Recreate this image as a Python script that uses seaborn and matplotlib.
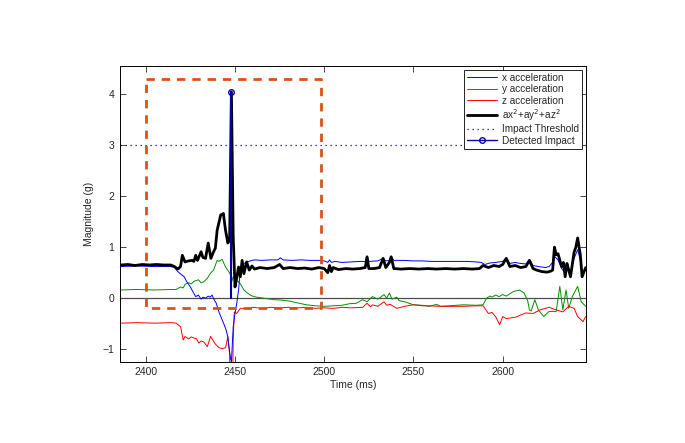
import numpy as np
import matplotlib
matplotlib.use("Agg")
import matplotlib.pyplot as plt
from matplotlib.lines import Line2D
from matplotlib.legend_handler import HandlerLine2D
import seaborn as sns

# x acceleration
t_x = [2386, 2395, 2405, 2414, 2416, 2418, 2420, 2421.5, 2423, 2425, 2426.5, 2428, 2429.5, 2431, 2432,
       2433.5, 2435, 2436, 2437.2, 2438, 2439.5, 2441, 2442.5, 2443.7, 2445, 2446, 2447, 2447.6, 2448,
       2449, 2450, 2451, 2452, 2453, 2454, 2455, 2457, 2459.5, 2461, 2465, 2470, 2474, 2475.4, 2477,
       2482, 2487, 2492, 2497, 2500, 2502, 2503, 2504, 2506, 2510, 2515, 2520, 2523, 2524, 2525, 2530,
       2533, 2534.5, 2536.5, 2537.5, 2539, 2545, 2550, 2555, 2560, 2565, 2570, 2575, 2580, 2585, 2588,
       2590, 2593, 2596, 2600, 2602, 2604, 2607, 2610, 2613, 2615, 2617, 2620, 2624, 2626, 2628, 2629,
       2631, 2633, 2635, 2636, 2638, 2640, 2642, 2643.5, 2644.5, 2646.5]
acc_x = [0.62, 0.63, 0.62, 0.62, 0.6, 0.52, 0.46, 0.42, 0.32, 0.22, 0.12, 0.03, 0.06, -0.02, 0.02,
         0.0, 0.04, 0.02, 0.06, -0.01, -0.1, -0.27, -0.4, -0.5, -0.62, -0.76, -1.05, -1.2, -1.25,
         -0.56, -0.3, -0.1, 0.16, 0.55, 0.65, 0.68, 0.71, 0.74, 0.75, 0.74, 0.75, 0.75, 0.79, 0.75,
         0.74, 0.75, 0.74, 0.74, 0.73, 0.7, 0.75, 0.7, 0.72, 0.7, 0.71, 0.72, 0.72, 0.82, 0.72, 0.73,
         0.78, 0.73, 0.74, 0.82, 0.74, 0.74, 0.73, 0.73, 0.72, 0.72, 0.72, 0.72, 0.72, 0.71, 0.7,
         0.66, 0.69, 0.7, 0.72, 0.79, 0.68, 0.7, 0.68, 0.67, 0.76, 0.64, 0.62, 0.6, 0.62, 0.7, 0.82,
         0.75, 0.58, 0.5, 0.66, 0.5, 0.78, 0.95, 0.75, 0.5, 0.55]

# y acceleration
t_y = [2386, 2395, 2405, 2414, 2417, 2419.5, 2421, 2422, 2424, 2425.5, 2427, 2429.5, 2431, 2432.5,
       2434.5, 2436.3, 2438, 2440, 2441, 2442.8, 2444.7, 2446.5, 2447.5, 2448, 2449, 2450.3, 2452,
       2453, 2455, 2457, 2459, 2462, 2466, 2472, 2477, 2481, 2486, 2490, 2495, 2500, 2505, 2510,
       2514, 2518, 2521.5, 2524, 2527, 2530, 2533.5, 2535, 2536.5, 2538, 2540.6, 2542, 2545, 2550,
       2555, 2559, 2563, 2565, 2570, 2578, 2585, 2589, 2591, 2593, 2594, 2596, 2598, 2600, 2602,
       2606, 2609.5, 2612, 2614, 2615, 2616, 2618, 2620, 2623, 2626, 2630, 2632, 2633.7, 2635.5,
       2637, 2639, 2642, 2644, 2646.5]
acc_y = [0.16, 0.17, 0.16, 0.17, 0.17, 0.22, 0.2, 0.27, 0.3, 0.28, 0.33, 0.36, 0.3, 0.32,
         0.39, 0.49, 0.55, 0.74, 0.72, 0.76, 0.61, 0.52, 0.46, 0.3, 0.42, 0.36, 0.32,
         0.28, 0.16, 0.1, 0.05, 0.02, 0.0, -0.03, -0.04, -0.06, -0.1, -0.13, -0.15, -0.16, -0.15, -0.14,
         -0.11, -0.1, -0.03, -0.07, 0.03, -0.02, 0.07, 0.0, 0.1, -0.02, 0.02, -0.05, -0.07, -0.13,
         -0.14, -0.16, -0.12, -0.16, -0.15, -0.13, -0.14, -0.13, 0.0, 0.04, 0.02, 0.06, 0.03, 0.07, 0.04,
         0.13, 0.16, 0.1, -0.05, -0.23, -0.25, -0.03, -0.23, -0.36, -0.26, -0.26, 0.23, -0.23, 0.16,
         -0.2, 0.03, 0.23, -0.07, -0.16]

# z acceleration
t_z = [2386, 2395, 2405, 2414, 2417, 2419.5, 2421, 2422, 2424, 2425.5, 2427, 2428.5, 2429.7, 2431,
       2432.6, 2434.5, 2436.3, 2437.2, 2439, 2441, 2442.8, 2444.7, 2446, 2447, 2448, 2449, 2449.6,
       2451, 2453, 2456.8, 2460, 2465, 2470, 2475, 2480, 2485, 2490, 2495, 2500, 2505, 2510, 2515,
       2521.5, 2524, 2526, 2527, 2530, 2533.5, 2535, 2537, 2540.6, 2545, 2550, 2555, 2559, 2565,
       2570, 2578, 2585, 2589, 2592, 2594, 2596, 2598.3, 2600, 2602, 2604, 2607.6, 2610, 2613, 2617,
       2621, 2626, 2630, 2633.7, 2637, 2640, 2642, 2645, 2646.5]
acc_z = [-0.49, -0.48, -0.49, -0.48, -0.49, -0.56, -0.82, -0.75, -0.8, -0.76, -0.78, -0.8, -0.88, -0.84,
         -0.86, -0.95, -0.75, -0.8, -0.9, -0.97, -0.99, -0.97, -0.76, -1.1, -3.8, -0.82, -0.27,
         -0.3, -0.2, -0.2, -0.18, -0.2, -0.18, -0.19, -0.18, -0.19, -0.18, -0.2, -0.19, -0.2, -0.18, -0.19,
         -0.18, -0.1, -0.17, -0.13, -0.16, -0.07, -0.14, -0.12, -0.2, -0.16, -0.13, -0.15, -0.15, -0.16,
         -0.16, -0.16, -0.15, -0.15, -0.3, -0.28, -0.36, -0.52, -0.36, -0.4, -0.39, -0.37, -0.33, -0.29, -0.3,
         -0.23, -0.18, -0.23, -0.27, -0.16, -0.2, -0.36, -0.46, -0.36]

# magnitude
t_mag = [2386, 2390, 2394, 2398, 2402, 2406, 2410, 2414, 2416, 2418, 2419.5, 2420.5, 2422, 2424, 2426,
         2427, 2428, 2429, 2431, 2432, 2433.5, 2435, 2436.5, 2438, 2439, 2440, 2442, 2443.5, 2444.7,
         2446, 2447, 2448, 2449, 2450, 2451, 2452, 2453, 2454, 2455, 2456.5, 2458, 2459.5, 2461, 2464,
         2468, 2472, 2475, 2477, 2481, 2485, 2489, 2493, 2497, 2500, 2502, 2503, 2504, 2505, 2508, 2512,
         2516, 2520, 2523, 2524, 2525, 2528, 2531, 2533, 2534.5, 2536.5, 2537.5, 2539, 2543, 2548, 2553,
         2558, 2563, 2568, 2573, 2578, 2583, 2587, 2589, 2592, 2595, 2598, 2600, 2602, 2604, 2607, 2610,
         2613, 2615, 2617, 2619, 2622, 2625, 2627, 2628, 2629, 2630, 2631, 2633, 2634, 2635, 2636, 2637,
         2638, 2640, 2641, 2642, 2643.5, 2644.5, 2646.5]
mag = [0.65, 0.66, 0.64, 0.66, 0.65, 0.66, 0.65, 0.65, 0.62, 0.57, 0.62, 0.84, 0.71, 0.73, 0.74,
       0.72, 0.84, 0.74, 0.91, 0.8, 0.78, 1.08, 0.78, 0.91, 0.98, 1.33, 1.63, 1.66, 1.33,
       1.08, 1.15, 4.04, 1.2, 0.22, 0.4, 0.61, 0.42, 0.74, 0.48, 0.71, 0.55, 0.63, 0.57, 0.6,
       0.58, 0.6, 0.66, 0.58, 0.6, 0.58, 0.59, 0.57, 0.6, 0.58, 0.5, 0.64, 0.52, 0.6, 0.56, 0.58,
       0.57, 0.58, 0.6, 0.81, 0.58, 0.58, 0.6, 0.78, 0.6, 0.7, 0.81, 0.58, 0.57, 0.58, 0.57,
       0.58, 0.57, 0.58, 0.57, 0.58, 0.57, 0.58, 0.64, 0.6, 0.64, 0.62, 0.66, 0.78, 0.62, 0.64, 0.6,
       0.62, 0.74, 0.58, 0.55, 0.52, 0.51, 0.53, 0.55, 1.0, 0.85, 0.87, 0.62, 0.7, 0.42, 0.68, 0.55,
       0.42, 0.9, 1.0, 1.18, 0.85, 0.42, 0.6]

threshold = 3.0
impact_t = 2448
impact_val = 4.04
box_t = [2400, 2498]
box_g = [-0.2, 4.3]


class MarkerAtEnd(HandlerLine2D):
    # matlab style legend: marker sits at the right end of the line
    def get_xdata(self, legend, xdescent, ydescent, width, height, fontsize):
        xdata, _ = super().get_xdata(legend, xdescent, ydescent, width, height, fontsize)
        return xdata, np.array([xdata[-1]])


sns.set_style("ticks")
plt.rcParams['font.family'] = ['Liberation Sans', 'DejaVu Sans']

fig = plt.figure(figsize=(6.85, 4.43), dpi=100)
ax = fig.add_axes([0.175, 0.183, 0.68, 0.668])

ax.axhline(0, color='0.3', lw=0.9, zorder=1)
sns.lineplot(x=t_x, y=acc_x, ax=ax, color='#0000ff', lw=0.7, label='x acceleration', zorder=3)
sns.lineplot(x=t_y, y=acc_y, ax=ax, color='#009000', lw=0.7, label='y acceleration', zorder=2)
sns.lineplot(x=t_z, y=acc_z, ax=ax, color='#ff0000', lw=0.7, label='z acceleration', zorder=2)
sns.lineplot(x=t_mag, y=mag, ax=ax, color='black', lw=2.0, label=r'ax$^2$+ay$^2$+az$^2$', zorder=4)
ax.axhline(threshold, color='#0000cc', lw=0.9, ls=(0, (1, 3)), label='Impact Threshold', zorder=2)
ax.plot([impact_t, impact_t], [0, impact_val], color='#0000aa', lw=1.5, zorder=5)
ax.plot([impact_t], [impact_val], 'o', mfc='none', mec='#0000aa', ms=4, mew=1, zorder=6)

# dashed region of interest
ax.plot([box_t[0], box_t[1], box_t[1], box_t[0], box_t[0]],
        [box_g[1], box_g[1], box_g[0], box_g[0], box_g[1]],
        color='#d95319', lw=2, ls=(0, (3, 2.5)), zorder=7)

ax.set_xlim(2385.5, 2646.5)
ax.set_ylim(-1.25, 4.55)
ax.set_xticks([2400, 2450, 2500, 2550, 2600])
ax.set_yticks([-1, 0, 1, 2, 3, 4])
ax.tick_params(direction='in', length=4, width=0.6, top=True, right=True, labelsize=7.5, pad=4)
for s in ax.spines.values():
    s.set_visible(True)
    s.set_linewidth(0.7)
    s.set_color('black')
ax.set_xlabel('Time (ms)', fontsize=7.5, labelpad=2)
ax.set_ylabel('Magnitude (g)', fontsize=7.5, labelpad=6)

handles, labels = ax.get_legend_handles_labels()
impact_handle = Line2D([], [], color='#0000aa', lw=1, marker='o', mfc='none', ms=4, mew=1)
handles.append(impact_handle)
labels.append('Detected Impact')
leg = ax.legend(handles, labels, loc='upper right', fontsize=7.2, frameon=True, fancybox=False,
                framealpha=1, edgecolor='black', borderpad=0.3, labelspacing=0.15,
                handlelength=3.0, handletextpad=0.5, borderaxespad=0.35,
                handler_map={impact_handle: MarkerAtEnd(numpoints=1)})
leg.get_frame().set_linewidth(0.6)

fig.savefig('out.png', dpi=100)
